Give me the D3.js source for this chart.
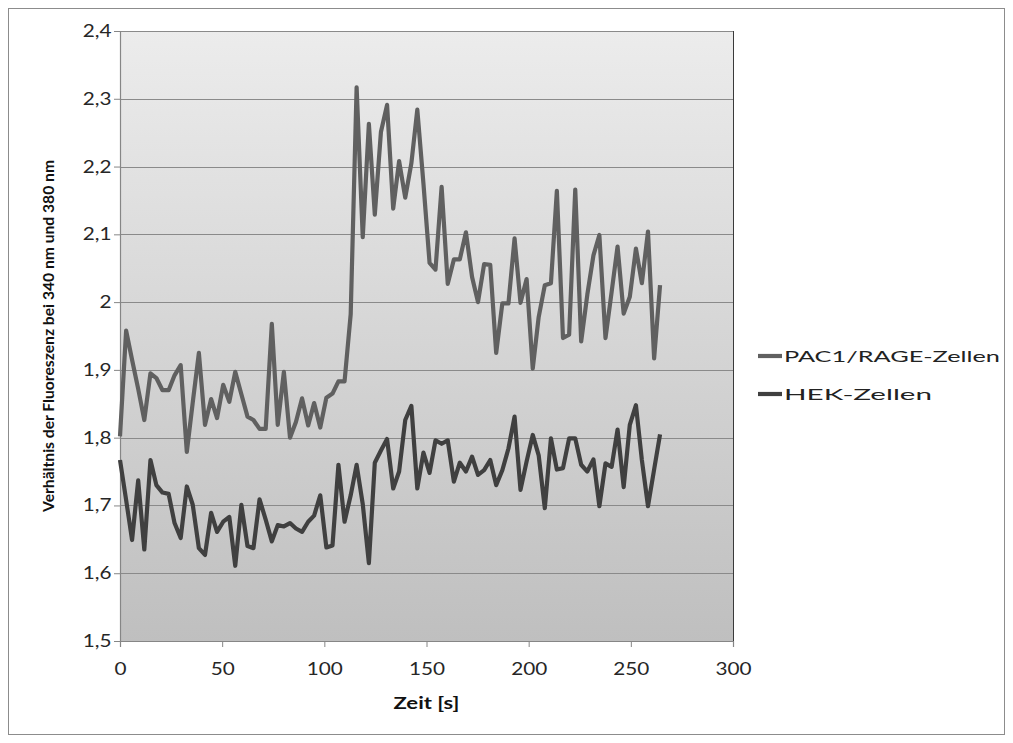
<!DOCTYPE html>
<html>
<head>
<meta charset="UTF-8" />
<script src="https://d3js.org/d3.v7.min.js"></script>
<title>Fluoreszenz</title>
<style>
body { margin: 0; background: #fff; }
</style>
</head>
<body>
<script type="text/javascript">

// Zeitpunkte der Messung [s]
var zeit = [0, 3.0, 5.9, 8.9, 11.9, 14.9, 17.8, 20.8, 23.8, 26.7,
  29.7, 32.7, 35.6, 38.6, 41.6, 44.6, 47.5, 50.5, 53.5, 56.4,
  59.4, 62.4, 65.3, 68.3, 71.3, 74.3, 77.2, 80.2, 83.2, 86.1,
  89.1, 92.1, 95.0, 98.0, 101.0, 104.0, 106.9, 109.9, 112.9, 115.8,
  118.8, 121.8, 124.7, 127.7, 130.7, 133.7, 136.6, 139.6, 142.6, 145.5,
  148.5, 151.5, 154.4, 157.4, 160.4, 163.4, 166.3, 169.3, 172.3, 175.2,
  178.2, 181.2, 184.1, 187.1, 190.1, 193.1, 196.0, 199.0, 202.0, 204.9,
  207.9, 210.9, 213.8, 216.8, 219.8, 222.8, 225.7, 228.7, 231.7, 234.6,
  237.6, 240.6, 243.5, 246.5, 249.5, 252.5, 255.4, 258.4, 261.4, 264.3];

var pac1 = [1.802, 1.958, 1.915, 1.872, 1.826, 1.895, 1.888, 1.870, 1.870, 1.892,
  1.907, 1.779, 1.852, 1.925, 1.819, 1.857, 1.829, 1.878, 1.853, 1.897,
  1.864, 1.831, 1.826, 1.813, 1.813, 1.968, 1.819, 1.897, 1.800, 1.823,
  1.858, 1.818, 1.851, 1.815, 1.859, 1.865, 1.883, 1.883, 1.982, 2.317,
  2.096, 2.263, 2.129, 2.251, 2.291, 2.138, 2.208, 2.154, 2.205, 2.284,
  2.175, 2.058, 2.048, 2.170, 2.027, 2.063, 2.063, 2.103, 2.037, 2.000,
  2.056, 2.055, 1.925, 1.998, 1.998, 2.094, 1.999, 2.034, 1.902, 1.978,
  2.025, 2.028, 2.164, 1.947, 1.952, 2.166, 1.942, 2.011, 2.069, 2.099,
  1.947, 2.015, 2.082, 1.983, 2.008, 2.079, 2.028, 2.104, 1.917, 2.025];

var hek = [1.767, 1.708, 1.649, 1.737, 1.635, 1.767, 1.730, 1.719, 1.717, 1.674,
  1.652, 1.728, 1.701, 1.637, 1.627, 1.689, 1.661, 1.676, 1.683, 1.611,
  1.701, 1.640, 1.637, 1.709, 1.679, 1.647, 1.671, 1.669, 1.674, 1.666,
  1.661, 1.676, 1.685, 1.715, 1.638, 1.641, 1.760, 1.676, 1.715, 1.760,
  1.702, 1.615, 1.763, 1.781, 1.798, 1.725, 1.750, 1.826, 1.847, 1.725,
  1.778, 1.748, 1.796, 1.791, 1.796, 1.735, 1.763, 1.750, 1.772, 1.745,
  1.752, 1.767, 1.730, 1.752, 1.784, 1.831, 1.723, 1.765, 1.804, 1.774,
  1.696, 1.799, 1.753, 1.755, 1.799, 1.799, 1.760, 1.750, 1.768, 1.699,
  1.762, 1.757, 1.812, 1.727, 1.819, 1.848, 1.767, 1.699, 1.753, 1.805];

var xTicks = [0, 50, 100, 150, 200, 250, 300];
var yTicks = [1.5, 1.6, 1.7, 1.8, 1.9, 2.0, 2.1, 2.2, 2.3, 2.4];

var serien = [
  {name: "PAC1/RAGE-Zellen", werte: pac1, farbe: "#606060", breite: 216},
  {name: "HEK-Zellen", werte: hek, farbe: "#404040", breite: 148}
];

var margin = {top: 31, right: 280, bottom: 102, left: 120},
    width = 1013 - margin.left - margin.right,
    height = 743 - margin.top - margin.bottom;

var font = "Lato, 'Open Sans', sans-serif";

var svg = d3.select("body").append("svg")
    .attr("width", 1013)
    .attr("height", 743);

// Rahmen um das ganze Diagramm
svg.append("rect")
    .attr("x", 8.5).attr("y", 8.5)
    .attr("width", 996).attr("height", 726)
    .attr("fill", "#fff")
    .attr("stroke", "#8c8c8c");

var defs = svg.append("defs");
var grad = defs.append("linearGradient")
    .attr("id", "bg")
    .attr("x1", 0).attr("y1", 0).attr("x2", 0).attr("y2", 1);
grad.append("stop").attr("offset", "0%").attr("stop-color", "#ececec");
grad.append("stop").attr("offset", "100%").attr("stop-color", "#bfbfbf");

var g = svg.append("g")
    .attr("transform", "translate(" + margin.left + "," + margin.top + ")");

var x = d3.scaleLinear().domain([0, 300]).range([0, width]);
var y = d3.scaleLinear().domain([1.5, 2.4]).range([height, 0]);

g.append("rect")
    .attr("width", width)
    .attr("height", height)
    .attr("fill", "url(#bg)");

// Gitterlinien
g.append("g")
    .selectAll("line")
    .data(yTicks)
    .enter().append("line")
    .attr("x1", 0).attr("x2", width)
    .attr("y1", function(d) { return Math.round(y(d)) + 0.5; })
    .attr("y2", function(d) { return Math.round(y(d)) + 0.5; })
    .attr("stroke", "#8a8a8a")
    .attr("stroke-width", 1.2);

g.append("line")
    .attr("x1", width + 0.5).attr("x2", width + 0.5)
    .attr("y1", 0).attr("y2", height)
    .attr("stroke", "#3a3a3a");

var fmt = function(d) { return d3.format(".1f")(d).replace(".0", "").replace(".", ","); };

var yAxis = g.append("g")
    .call(d3.axisLeft(y).tickValues(yTicks).tickSize(6).tickPadding(1).tickFormat(fmt));
var xAxis = g.append("g")
    .attr("transform", "translate(0," + height + ")")
    .call(d3.axisBottom(x).tickValues(xTicks).tickSize(6).tickPadding(16));

[xAxis, yAxis].forEach(function(a) {
  a.select(".domain").attr("stroke", "#868686").attr("stroke-width", 1.2);
  a.selectAll(".tick line").attr("stroke", "#868686");
  a.selectAll("text")
    .attr("fill", "#262626")
    .attr("transform", "scale(1.22,1)")
    .style("font-family", font)
    .style("font-size", "17px");
});

// Linien
var line = d3.line()
    .x(function(d, i) { return x(zeit[i]); })
    .y(function(d) { return y(d); });

serien.forEach(function(s) {
  g.append("path")
    .datum(s.werte)
    .attr("d", line)
    .attr("fill", "none")
    .attr("stroke", s.farbe)
    .attr("stroke-width", 4.2)
    .attr("stroke-linejoin", "round");
});

// Achsentitel
svg.append("text")
    .attr("x", margin.left + width / 2 - 33)
    .attr("y", 709)
    .attr("textLength", 66)
    .attr("lengthAdjust", "spacingAndGlyphs")
    .style("font-family", font)
    .style("font-weight", "bold")
    .style("font-size", "17px")
    .attr("fill", "#111")
    .text("Zeit [s]");

svg.append("text")
    .attr("transform", "translate(54," + (margin.top + height / 2 + 176) + ") rotate(-90)")
    .attr("textLength", 352)
    .attr("lengthAdjust", "spacingAndGlyphs")
    .style("font-family", font)
    .style("font-weight", "bold")
    .style("font-size", "16px")
    .attr("fill", "#111")
    .text("Verhältnis der Fluoreszenz bei 340 nm und 380 nm");

// Legende
var legend = svg.append("g")
    .selectAll("g")
    .data(serien)
    .enter().append("g")
    .attr("transform", function(d, i) { return "translate(758," + (356 + i * 38) + ")"; });

legend.append("line")
    .attr("x1", 0).attr("x2", 24)
    .attr("stroke", function(d) { return d.farbe; })
    .attr("stroke-width", 4.2);

legend.append("text")
    .attr("x", 26)
    .attr("dy", "0.35em")
    .attr("textLength", function(d) { return d.breite; })
    .attr("lengthAdjust", "spacingAndGlyphs")
    .style("font-family", font)
    .style("font-size", "16px")
    .attr("fill", "#222")
    .text(function(d) { return d.name; });

</script>
</body>
</html>
